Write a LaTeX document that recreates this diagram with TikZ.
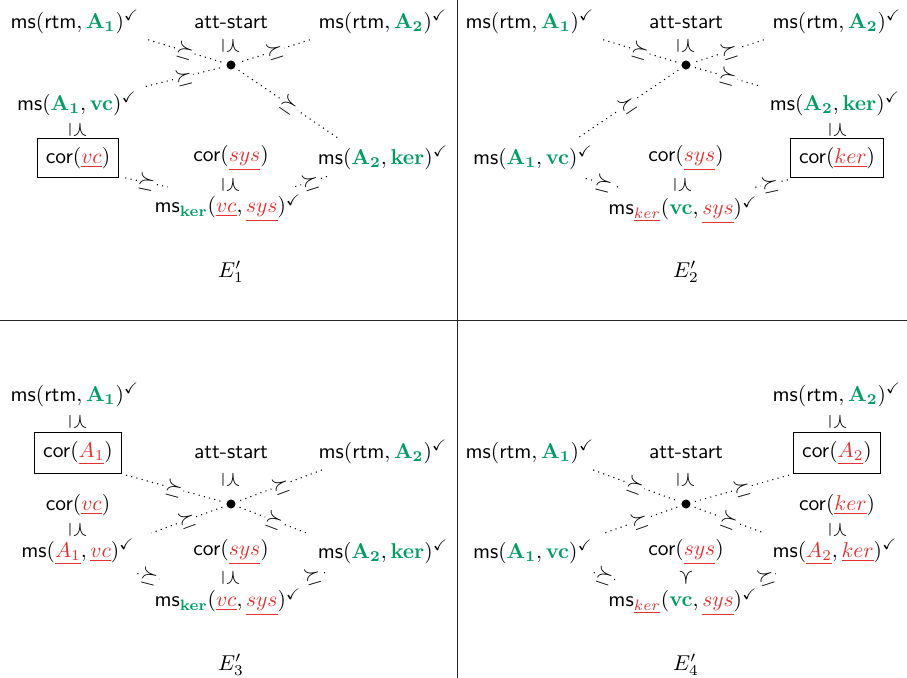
\documentclass[tikz,border=0pt]{standalone}
\usepackage{amsmath,amssymb}
\usepackage{xcolor}
\usetikzlibrary{calc}
\definecolor{mgreen}{RGB}{0,158,98}
\definecolor{mred}{RGB}{228,48,48}
\newcommand{\gb}[1]{{\color{mgreen}\mathbf{#1}}}
\newcommand{\ru}[1]{{\color{mred}\underline{#1}}}
\newcommand{\sff}[1]{\textsf{#1}}
\newcommand{\ck}{^{\checkmark}}
\newcommand{\rs}{$\succeq$}
\newcommand{\vs}{$\preceq$}
\tikzset{
  lbl/.style={inner sep=2pt},
  boxed/.style={draw, inner sep=4pt, line width=0.5pt},
  dotc/.style={circle, fill, inner sep=0pt, minimum size=4.2pt},
  conn/.style={dotted, line width=0.5pt, shorten >=2pt, shorten <=2pt},
  sconn/.style={dotted, line width=0.5pt},
  rel/.style={sloped, fill=white, inner sep=0.6pt},
  vrel/.style={rotate=-90, inner sep=0pt},
  sep/.style={line width=0.4pt, black!85}
}
\begin{document}
\begin{tikzpicture}[x=0.465pt,y=-0.465pt]
\useasboundingbox (0,0) rectangle (907,678);
\draw[sep] (457,0) -- (457,678);
\draw[sep] (0,320) -- (907,320);

% ---------- Panel 1 ----------
\node[lbl] (p1rA1) at (75,22) {\sff{ms}$(\sff{rtm},\gb{A_1})\ck$};
\node[lbl] (p1att) at (231,22) {\sff{att-start}};
\node[lbl] (p1rA2) at (383,22) {\sff{ms}$(\sff{rtm},\gb{A_2})\ck$};
\node[vrel] (p1v1) at (231,46) {\vs};
\node[dotc] (p1d) at (231,65) {};
\node[lbl] (p1A1vc) at (77,104) {\sff{ms}$(\gb{A_1},\gb{vc})\ck$};
\node[vrel] (p1v2) at (78,130) {\vs};
\node[boxed] (p1cvc) at (78,158) {\sff{cor}$(\ru{vc})$};
\node[lbl] (p1csys) at (231,158) {\sff{cor}$(\ru{sys})$};
\node[lbl] (p1A2ker) at (383,158) {\sff{ms}$(\gb{A_2},\gb{ker})\ck$};
\node[vrel] (p1v3) at (231,185) {\vs};
\node[lbl] (p1mk) at (228,208) {$\sff{ms}_{\gb{ker}}(\ru{vc},\ru{sys})\ck$};
\node[lbl] (p1E) at (231,272) {$E'_1$};
\draw[conn] (p1rA1.south east) -- node[rel] {\rs} (p1d);
\draw[conn] (p1A1vc.north east) -- node[rel] {\rs} (p1d);
\draw[conn] (p1rA2.south west) -- node[rel] {\rs} (p1d);
\draw[conn] (p1d) -- node[rel] {\rs} ($(p1A2ker.north west)+(30,0)$);
\draw[sconn] ($(p1cvc.south east)+(6,0)$) -- node[rel] {\rs} ($(p1mk.north west)+(18,-3)$);
\draw[sconn] ($(p1A2ker.south west)+(14,2)$) -- node[rel] {\rs} ($(p1mk.north east)+(-12,-3)$);

% ---------- Panel 2 ----------
\node[lbl] (p2rA1) at (530,22) {\sff{ms}$(\sff{rtm},\gb{A_1})\ck$};
\node[lbl] (p2att) at (686,22) {\sff{att-start}};
\node[lbl] (p2rA2) at (837,22) {\sff{ms}$(\sff{rtm},\gb{A_2})\ck$};
\node[vrel] (p2v1) at (686,46) {\vs};
\node[dotc] (p2d) at (686,65) {};
\node[lbl] (p2A2ker) at (835,104) {\sff{ms}$(\gb{A_2},\gb{ker})\ck$};
\node[vrel] (p2v2) at (838,130) {\vs};
\node[boxed] (p2cker) at (837,158) {\sff{cor}$(\ru{ker})$};
\node[lbl] (p2A1vc) at (533,158) {\sff{ms}$(\gb{A_1},\gb{vc})\ck$};
\node[lbl] (p2csys) at (686,158) {\sff{cor}$(\ru{sys})$};
\node[vrel] (p2v3) at (683,185) {\vs};
\node[lbl] (p2mk) at (683,210) {$\sff{ms}_{\ru{ker}}(\gb{vc},\ru{sys})\ck$};
\node[lbl] (p2E) at (686,272) {$E'_2$};
\draw[conn] (p2rA1.south east) -- node[rel] {\rs} (p2d);
\draw[conn] (p2rA2.south west) -- node[rel] {\rs} (p2d);
\draw[conn] (p2d) -- node[rel] {\rs} (p2A2ker.north west);
\draw[conn] (p2d) -- node[rel] {\rs} ($(p2A1vc.north east)+(-25,0)$);
\draw[sconn] ($(p2A1vc.south east)+(-12,4)$) -- node[rel] {\rs} ($(p2mk.north west)+(18,-4)$);
\draw[sconn] ($(p2cker.south west)+(-2,2)$) -- node[rel] {\rs} ($(p2mk.north east)+(-10,-4)$);

% ---------- Panel 3 ----------
\node[lbl] (p3rA1) at (75,395) {\sff{ms}$(\sff{rtm},\gb{A_1})\ck$};
\node[vrel] (p3v1) at (78,422) {\vs};
\node[boxed] (p3cA1) at (78,453) {\sff{cor}$(\ru{A_1})$};
\node[lbl] (p3att) at (231,452) {\sff{att-start}};
\node[lbl] (p3rA2) at (383,452) {\sff{ms}$(\sff{rtm},\gb{A_2})\ck$};
\node[vrel] (p3v2) at (231,480) {\vs};
\node[dotc] (p3d) at (231,504) {};
\node[lbl] (p3cvc) at (78,505) {\sff{cor}$(\ru{vc})$};
\node[vrel] (p3v3) at (78,530) {\vs};
\node[lbl] (p3A1vc) at (78,552) {\sff{ms}$(\ru{A_1},\ru{vc})\ck$};
\node[lbl] (p3csys) at (231,552) {\sff{cor}$(\ru{sys})$};
\node[lbl] (p3A2ker) at (383,552) {\sff{ms}$(\gb{A_2},\gb{ker})\ck$};
\node[vrel] (p3v4) at (231,578) {\vs};
\node[lbl] (p3mk) at (228,602) {$\sff{ms}_{\gb{ker}}(\ru{vc},\ru{sys})\ck$};
\node[lbl] (p3E) at (231,665) {$E'_3$};
\draw[conn] (p3cA1.south east) -- node[rel] {\rs} (p3d);
\draw[conn] ($(p3rA2.south west)+(12,0)$) -- node[rel] {\rs} (p3d);
\draw[conn] (p3d) -- node[rel] {\rs} ($(p3A1vc.north east)+(8,0)$);
\draw[conn] (p3d) -- node[rel] {\rs} (p3A2ker.north west);
\draw[sconn] ($(p3A1vc.south east)+(-2,4)$) -- node[rel] {\rs} ($(p3mk.north west)+(12,-4)$);
\draw[sconn] ($(p3A2ker.south west)+(12,4)$) -- node[rel] {\rs} ($(p3mk.north east)+(-6,-4)$);

% ---------- Panel 4 ----------
\node[lbl] (p4rA2) at (837,395) {\sff{ms}$(\sff{rtm},\gb{A_2})\ck$};
\node[vrel] (p4v1) at (838,422) {\vs};
\node[boxed] (p4cA2) at (837,453) {\sff{cor}$(\ru{A_2})$};
\node[lbl] (p4rA1) at (530,452) {\sff{ms}$(\sff{rtm},\gb{A_1})\ck$};
\node[lbl] (p4att) at (686,452) {\sff{att-start}};
\node[vrel] (p4v2) at (686,480) {\vs};
\node[dotc] (p4d) at (686,504) {};
\node[lbl] (p4cker) at (837,505) {\sff{cor}$(\ru{ker})$};
\node[vrel] (p4v3) at (838,530) {\vs};
\node[lbl] (p4A2ker) at (835,552) {\sff{ms}$(\ru{A_2},\ru{ker})\ck$};
\node[lbl] (p4A1vc) at (533,552) {\sff{ms}$(\gb{A_1},\gb{vc})\ck$};
\node[lbl] (p4csys) at (686,552) {\sff{cor}$(\ru{sys})$};
\node[vrel] (p4v4) at (686,578) {$\succ$};
\node[lbl] (p4mk) at (683,602) {$\sff{ms}_{\ru{ker}}(\gb{vc},\ru{sys})\ck$};
\node[lbl] (p4E) at (686,665) {$E'_4$};
\draw[conn] ($(p4rA1.south east)+(-10,0)$) -- node[rel] {\rs} (p4d);
\draw[conn] (p4cA2.south west) -- node[rel] {\rs} (p4d);
\draw[conn] (p4d) -- node[rel] {\rs} (p4A1vc.north east);
\draw[conn] (p4d) -- node[rel] {\rs} (p4A2ker.north west);
\draw[sconn] ($(p4A1vc.south east)+(-4,4)$) -- node[rel] {\rs} ($(p4mk.north west)+(12,-4)$);
\draw[sconn] ($(p4A2ker.south west)+(8,4)$) -- node[rel] {\rs} ($(p4mk.north east)+(-6,-4)$);
\end{tikzpicture}
\end{document}
